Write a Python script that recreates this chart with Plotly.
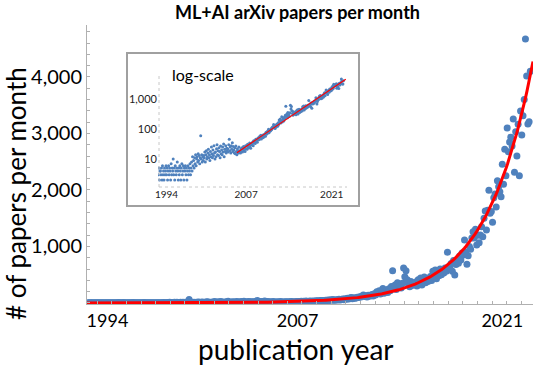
import numpy as np
import plotly.graph_objects as go

# ---- data: monthly ML+AI arXiv paper counts, Sep 1992 .. Dec 2022 ----
start_year = 1992
start_month = 9
counts_1992 = [3, 5, 2, 4]
counts_1993 = [4, 3, 5, 2, 6, 3, 4, 2, 5, 3, 4, 6]
counts_1994 = [3, 5, 2, 4, 6, 3, 5, 4, 2, 7, 3, 5]
counts_1995 = [4, 10, 3, 5, 2, 6, 4, 3, 5, 8, 4, 2]
counts_1996 = [5, 3, 6, 4, 2, 5, 7, 3, 4, 6, 2, 5]
counts_1997 = [4, 6, 3, 5, 2, 4, 6, 3, 5, 4, 7, 3]
counts_1998 = [5, 8, 4, 12, 6, 9, 5, 11, 7, 14, 6, 10]
counts_1999 = [12, 8, 15, 9, 13, 7, 11, 60, 10, 14, 8, 12]
counts_2000 = [9, 13, 11, 17, 8, 14, 19, 10, 12, 16, 21, 11]
counts_2001 = [14, 9, 18, 12, 25, 15, 11, 20, 13, 28, 16, 10]
counts_2002 = [17, 12, 22, 30, 14, 19, 13, 24, 18, 11, 27, 15]
counts_2003 = [20, 14, 25, 17, 32, 12, 21, 18, 28, 16, 23, 19]
counts_2004 = [22, 17, 30, 46, 19, 25, 16, 28, 21, 35, 18, 26]
counts_2005 = [20, 16, 24, 15, 27, 18, 14, 22, 19, 16, 25, 17]
counts_2006 = [19, 16, 22, 18, 24, 17, 21, 26, 19, 23, 18, 28]
counts_2007 = [22, 27, 21, 31, 25, 29, 24, 34, 28, 23, 33, 30]
counts_2008 = [30, 37, 28, 41, 35, 40, 33, 46, 39, 44, 36, 49]
counts_2009 = [43, 52, 45, 57, 49, 62, 47, 55, 59, 51, 65, 54]
counts_2010 = [60, 69, 57, 77, 67, 82, 72, 87, 98, 75, 92, 85]
counts_2011 = [89, 102, 95, 112, 107, 122, 142, 115, 128, 105, 136, 118]
counts_2012 = [132, 148, 125, 162, 142, 200, 175, 218, 158, 188, 258, 172]
counts_2013 = [200, 230, 185, 250, 215, 290, 572, 260, 318, 240, 360, 280]
counts_2014 = [300, 265, 350, 620, 465, 570, 410, 330, 289, 380, 310, 345]
counts_2015 = [330, 370, 300, 410, 350, 440, 320, 390, 460, 360, 420, 380]
counts_2016 = [420, 470, 400, 560, 450, 584, 430, 520, 480, 600, 500, 549]
counts_2017 = [531, 620, 560, 897, 642, 613, 700, 560, 750, 496, 680, 731]
counts_2018 = [702, 832, 760, 885, 850, 1115, 900, 685, 837, 1000, 950, 1150]
counts_2019 = [1262, 1150, 1304, 1027, 1200, 1067, 1203, 1350, 1173, 1500, 1630, 1290]
counts_2020 = [1640, 1995, 1588, 1620, 1428, 1864, 1929, 1700, 2165, 2058, 1970, 1881]
counts_2021 = [2455, 2100, 2720, 2250, 3097, 2678, 2850, 2933, 2779, 3257, 2313, 3032]
counts_2022 = [2600, 3163, 2253, 3400, 2973, 3315, 3600, 4673, 4018, 3168, 3209, 4100]

year_tick_vals = [1994, 2007, 2021]
year_tick_text = ["1994", "2007", "2021"]
y_tick_vals = [1000, 2000, 3000, 4000]
y_tick_text = ["1,000", "2,000", "3,000", "4,000"]
log_tick_vals = [10, 100, 1000]
log_tick_text = ["10", "100", "1,000"]
fit_start = 2005.5

all_counts = (counts_1992 + counts_1993 + counts_1994 + counts_1995 + counts_1996 +
              counts_1997 + counts_1998 + counts_1999 + counts_2000 + counts_2001 +
              counts_2002 + counts_2003 + counts_2004 + counts_2005 + counts_2006 +
              counts_2007 + counts_2008 + counts_2009 + counts_2010 + counts_2011 +
              counts_2012 + counts_2013 + counts_2014 + counts_2015 + counts_2016 +
              counts_2017 + counts_2018 + counts_2019 + counts_2020 + counts_2021 +
              counts_2022)
vals = np.array(all_counts, dtype=float)
t = start_year + (start_month - 1) / 12 + np.arange(len(vals)) / 12.0

# exponential trend line fitted to the data (like a spreadsheet trendline)
mask = t >= fit_start
slope, intercept = np.polyfit(t[mask], np.log(vals[mask]), 1)

X_MAIN = [1992.6, 2023.1]
X_INSET = [1992.6, 2023.5]
tm = np.linspace(X_MAIN[0], X_MAIN[1], 300)
ti = np.linspace(fit_start, 2023.3, 100)

BLUE = "#4F81BD"
RED = "#FF0000"
FONT = "Lato"

fig = go.Figure()
fig.add_trace(go.Scatter(x=t, y=vals, mode="markers",
                         marker=dict(color=BLUE, size=7), showlegend=False))
fig.add_trace(go.Scatter(x=tm, y=np.exp(intercept + slope * tm), mode="lines",
                         line=dict(color=RED, width=3), showlegend=False))
# inset (log scale)
fig.add_trace(go.Scatter(x=t, y=vals, mode="markers", xaxis="x2", yaxis="y2",
                         marker=dict(color=BLUE, size=3), showlegend=False))
fig.add_trace(go.Scatter(x=ti, y=np.exp(intercept + slope * ti), mode="lines",
                         xaxis="x2", yaxis="y2",
                         line=dict(color=RED, width=1.2), showlegend=False))

W, H = 534, 366
L, R, T, B = 87, 1, 25, 62
pw, ph = W - L - R, H - T - B

def px(x):
    return (x - L) / pw

def py(y):
    return (H - B - y) / ph

fig.update_layout(
    width=W, height=H,
    margin=dict(l=L, r=R, t=T, b=B),
    paper_bgcolor="white", plot_bgcolor="white",
    font=dict(family=FONT, color="#000000"),
    xaxis=dict(range=X_MAIN, tickmode="array", tickvals=year_tick_vals,
               ticktext=year_tick_text, showgrid=False, zeroline=False,
               showline=True, linecolor="#b0b0b0", linewidth=1,
               ticks="", tickfont=dict(size=18, family=FONT, color="#000"),
               minor=dict(ticks="inside", ticklen=3, tickcolor="#b0b0b0",
                          tickmode="linear", tick0=1993.3, dtick=1, showgrid=False)),
    yaxis=dict(range=[-18, 4920], tickmode="array", tickvals=y_tick_vals,
               ticktext=y_tick_text, showgrid=False, zeroline=False,
               showline=True, linecolor="#b0b0b0", linewidth=1,
               ticks="inside", ticklen=3, tickcolor="#b0b0b0",
               tickfont=dict(size=20, family=FONT, color="#000"),
               minor=dict(ticks="inside", ticklen=3, tickcolor="#b0b0b0",
                          tickmode="linear", tick0=0, dtick=200, showgrid=False)),
    xaxis2=dict(domain=[px(158), px(347)], anchor="y2", range=X_INSET,
                tickmode="array", tickvals=year_tick_vals, ticktext=year_tick_text,
                showgrid=False, zeroline=False, showline=False, ticks="",
                tickfont=dict(size=10, family=FONT, color="#222")),
    yaxis2=dict(domain=[py(187), py(73)], anchor="x2", type="log",
                range=[0.067, 3.87], tickmode="array", tickvals=log_tick_vals,
                ticktext=log_tick_text, showgrid=False, zeroline=False,
                showline=False, ticks="",
                tickfont=dict(size=11, family=FONT, color="#222")),
    shapes=[
        dict(type="rect", xref="paper", yref="paper", x0=px(127), x1=px(359),
             y0=py(206), y1=py(53), line=dict(color="#a0a0a0", width=2),
             fillcolor="white", layer="below"),
        dict(type="line", xref="paper", yref="paper", x0=px(159), x1=px(159),
             y0=py(187), y1=py(73), line=dict(color="#c8c8c8", width=1, dash="dot")),
        dict(type="line", xref="paper", yref="paper", x0=px(159), x1=px(347),
             y0=py(187), y1=py(187), line=dict(color="#c8c8c8", width=1, dash="dot")),
    ],
    annotations=[
        dict(text="<b>ML+AI arXiv papers per month</b>", xref="paper", yref="paper",
             x=px(297), y=py(12), xanchor="center", yanchor="middle", showarrow=False,
             font=dict(size=18, family=FONT, color="#000")),
        dict(text="publication year", xref="paper", yref="paper",
             x=px(296), y=py(349), xanchor="center", yanchor="middle", showarrow=False,
             font=dict(size=28, family=FONT, color="#000")),
        dict(text="# of papers per month", xref="paper", yref="paper",
             x=px(16), y=py(194), xanchor="center", yanchor="middle", showarrow=False,
             textangle=-90, font=dict(size=26, family=FONT, color="#000")),
        dict(text="log-scale", xref="paper", yref="paper",
             x=px(203), y=py(74), xanchor="center", yanchor="middle", showarrow=False,
             font=dict(size=16, family=FONT, color="#000")),
    ],
)

fig.write_html("out.html", config={"displayModeBar": False},
               post_script="document.body.style.margin='0';document.body.style.overflow='hidden';")
